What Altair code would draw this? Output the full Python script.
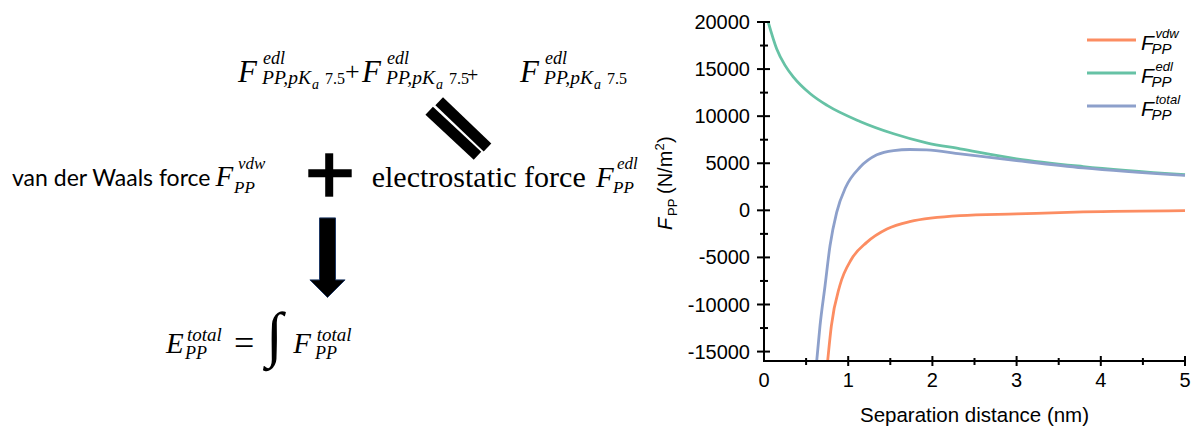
import altair as alt
import pandas as pd

# ---------------- data ----------------
SERIES = ["vdw", "edl", "total"]
COLORS = ["#FC8D62", "#66C2A5", "#8DA0CB"]

VDW_X = [0.756, 0.80, 0.90, 1.04, 1.22, 1.46, 1.73, 2.33, 3.0, 3.79, 5.0]
VDW_Y = [-16000, -12270, -8010, -5170, -3400, -1980, -1200, -560, -380, -170, -30]

EDL_X = [0.05, 0.15, 0.25, 0.35, 0.55, 0.75, 1.14, 1.54, 1.93, 2.33, 3.0, 3.79, 5.0]
EDL_Y = [20000, 17170, 15390, 14150, 12380, 11140, 9440, 8130, 7170, 6530, 5470, 4650, 3780]

TOT_X = [0.626, 0.665, 0.725, 0.784, 0.863, 0.97, 1.14, 1.34, 1.54, 1.73, 1.93, 2.33, 3.0, 3.79, 5.0]
TOT_Y = [-16000, -12270, -8010, -3760, -210, 2450, 4570, 5890, 6350, 6460, 6420, 6000, 5290, 4510, 3720]

X_TICKS = [0, 1, 2, 3, 4, 5]
X_LABELS = ["0", "1", "2", "3", "4", "5"]
X_MINOR = [0.5, 1.5, 2.5, 3.5, 4.5]
Y_TICKS = [-15000, -10000, -5000, 0, 5000, 10000, 15000, 20000]
Y_LABELS = ["-15000", "-10000", "-5000", "0", "5000", "10000", "15000", "20000"]
Y_MINOR = [-12500, -7500, -2500, 2500, 7500, 12500, 17500]
X_DOMAIN = [0, 5]
Y_DOMAIN = [-16000, 20000]

# ---------------- layout ----------------
OX, OY = 764, 22          # plot origin on the page
W, H = 421, 339           # plot area
SANS = "Liberation Sans"
SERIF = "Liberation Serif"
one = pd.DataFrame({"k": [0]})


def txt(s, x, y, size, font=SERIF, style="normal", angle=0, align="left",
        baseline="alphabetic", color="black"):
    return alt.Chart(one).mark_text(
        text=s, font=font, fontSize=size, fontStyle=style, angle=angle,
        align=align, baseline=baseline, color=color
    ).encode(x=alt.value(x - OX), y=alt.value(y - OY))


def bar(x1, y1, x2, y2, w, color="black"):
    return alt.Chart(one).mark_rule(strokeWidth=w, color=color, strokeCap="butt").encode(
        x=alt.value(x1 - OX), y=alt.value(y1 - OY),
        x2=alt.value(x2 - OX), y2=alt.value(y2 - OY))


xs = alt.Scale(domain=X_DOMAIN, nice=False, zero=False)
ys = alt.Scale(domain=Y_DOMAIN, nice=False, zero=False)
XE = dict(scale=xs, axis=None)
YE = dict(scale=ys, axis=None)


def curve(xv, yv, color):
    df = pd.DataFrame({"x": xv, "y": yv})
    return alt.Chart(df).mark_line(color=color, strokeWidth=2.8, interpolate="monotone").encode(
        x=alt.X("x:Q", **XE), y=alt.Y("y:Q", **YE))


def yticks(vals, a, b):
    return alt.Chart(pd.DataFrame({"y": vals})).mark_rule(color="black", strokeWidth=2).encode(
        y=alt.Y("y:Q", **YE), x=alt.value(a), x2=alt.value(b))


def xticks(vals, a, b):
    return alt.Chart(pd.DataFrame({"x": vals})).mark_rule(color="black", strokeWidth=2).encode(
        x=alt.X("x:Q", **XE), y=alt.value(H + a), y2=alt.value(H + b))


layers = [
    curve(VDW_X, VDW_Y, COLORS[0]),
    curve(EDL_X, EDL_Y, COLORS[1]),
    curve(TOT_X, TOT_Y, COLORS[2]),
    # axis lines
    alt.Chart(one).mark_rule(color="black", strokeWidth=2).encode(
        x=alt.value(0), y=alt.value(0), y2=alt.value(H + 1)),
    alt.Chart(one).mark_rule(color="black", strokeWidth=2).encode(
        x=alt.value(-1), x2=alt.value(W), y=alt.value(H)),
    yticks(Y_TICKS, -7, 6),
    yticks(Y_MINOR, -4, 4),
    xticks(X_TICKS[1:], -5, 5),
    xticks(X_MINOR, -3, 4),
    # tick labels
    alt.Chart(pd.DataFrame({"y": Y_TICKS, "t": Y_LABELS})).mark_text(
        font=SANS, fontSize=20, align="right", baseline="middle", color="black", dy=1).encode(
        y=alt.Y("y:Q", **YE), x=alt.value(-14), text="t:N"),
    alt.Chart(pd.DataFrame({"x": X_TICKS, "t": X_LABELS})).mark_text(
        font=SANS, fontSize=20, align="center", baseline="top", color="black").encode(
        x=alt.X("x:Q", **XE), y=alt.value(H + 10), text="t:N"),
]

# axis titles
layers.append(txt("Separation distance (nm)", 974.5, 421.5, 20.5, SANS, align="center"))
layers += [
    txt("F", 671.7, 230, 20, SANS, "italic", angle=270),
    txt("PP", 677, 216, 13, SANS, angle=270),
    txt("(N/m", 671.7, 194, 20, SANS, angle=270),
    txt("2", 664, 150.5, 13, SANS, angle=270),
    txt(")", 671.7, 143, 20, SANS, angle=270),
]

# legend
for i, (sup, col) in enumerate(zip(SERIES, COLORS)):
    y0 = 40 + 33 * i
    layers += [
        bar(1087, y0, 1136, y0, 3, col),
        txt("F", 1141, y0 + 9.5, 21, SANS, "italic"),
        txt(sup, 1155.5, y0 - 2, 13, SANS, "italic"),
        txt("PP", 1151.5, y0 + 14, 15, SANS, "italic"),
    ]

# ---------------- left-hand scheme ----------------
for gx in [238, 362, 520]:
    layers += [
        txt("F", gx, 81.7, 31, SERIF, "italic"),
        txt("edl", gx + 25, 64, 18, SERIF, "italic"),
        txt("PP,pK", gx + 24, 83.5, 19.5, SERIF, "italic"),
        txt("a", gx + 74, 88.5, 14, SERIF, "italic"),
        txt("7.5", gx + 87, 83.5, 16, SERIF),
    ]
layers += [
    txt("+", 345, 80.3, 26, SERIF),
    txt("+", 467, 81.7, 20, SERIF),
]
# slanted "equals"
layers += [
    bar(439.2, 101.2, 487.5, 147.5, 11),
    bar(429.2, 110.8, 477.5, 155.8, 11),
]
# row 2
layers += [
    txt("van der Waals force", 12, 186, 23, "Lato"),
    txt("F", 215.4, 186, 29, SERIF, "italic"),
    txt("vdw", 238, 169, 17, SERIF, "italic"),
    txt("PP", 234, 192.5, 17, SERIF, "italic"),
    bar(308.3, 173.3, 351.7, 173.3, 8),
    bar(329.2, 153.3, 329.2, 196.7, 8),
    txt("electrostatic force", 371.7, 186.7, 30, SERIF),
    txt("F", 596, 186.7, 29, SERIF, "italic"),
    txt("edl", 617, 169, 17, SERIF, "italic"),
    txt("PP", 613, 192.5, 17, SERIF, "italic"),
]
# down arrow
ARROW = "M-0.2,-0.99L0.2,-0.99L0.2,0.56L0.44,0.56L0,1L-0.44,0.56L-0.2,0.56Z"
layers.append(
    alt.Chart(one).mark_point(shape=ARROW, size=6400, filled=True, fill="black",
                              stroke="#1F3864", strokeWidth=1, opacity=1).encode(
        x=alt.value(327.5 - OX), y=alt.value(257.5 - OY)))
# row 3
layers += [
    txt("E", 166, 353.3, 29, SERIF, "italic"),
    txt("total", 187, 340.5, 19, SERIF, "italic"),
    txt("PP", 185, 358.5, 18, SERIF, "italic"),
    txt("=", 234, 355.4, 36, SERIF),
    txt("\u222b", 266, 355, 61, SERIF, "italic"),
    txt("F", 293.3, 353.3, 29, SERIF, "italic"),
    txt("total", 316.7, 340.5, 19, SERIF, "italic"),
    txt("PP", 315, 358.5, 18, SERIF, "italic"),
]

chart = alt.layer(*layers).properties(
    width=W, height=H,
    padding={"left": OX, "top": OY, "right": 1194 - OX - W, "bottom": 427 - OY - H},
    autosize=alt.AutoSizeParams(type="none"),
    background="white",
).configure_view(stroke=None)

chart.save("out.html", embed_options={"renderer": "svg", "actions": False})
